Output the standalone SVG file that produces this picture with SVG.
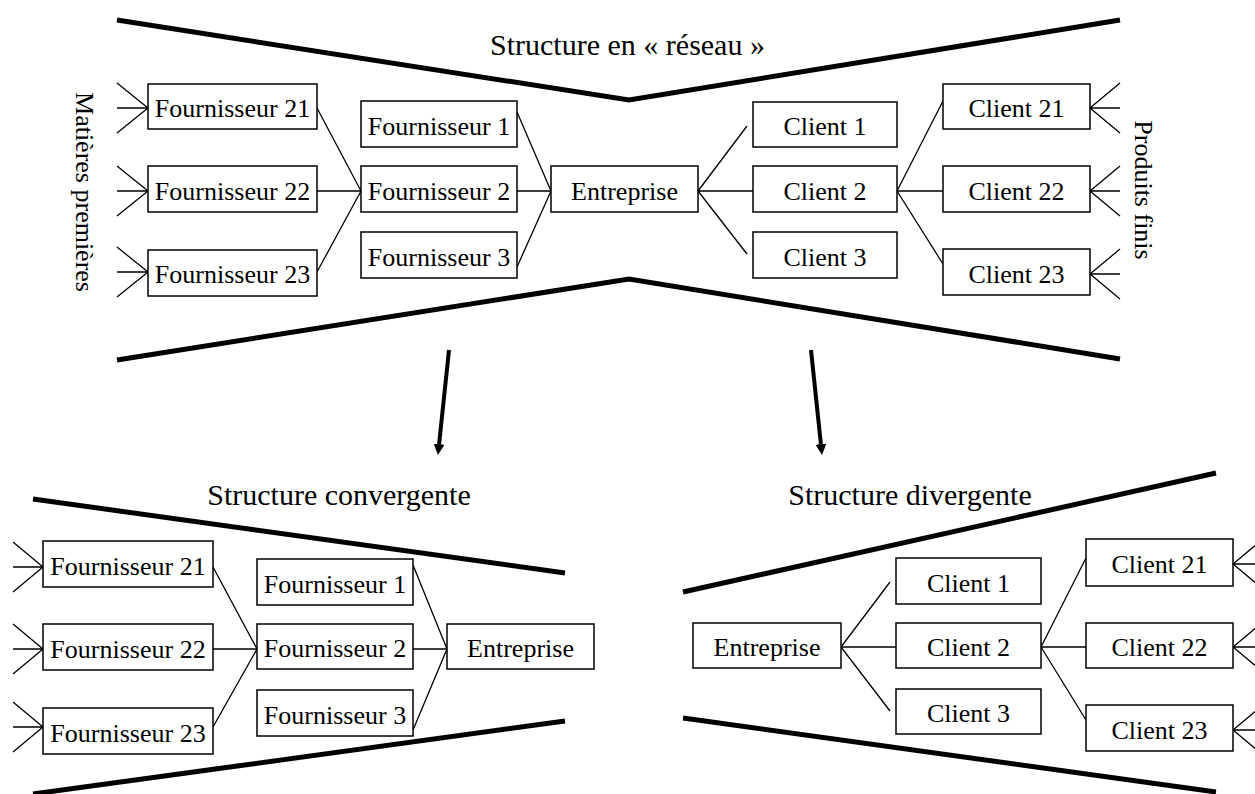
<svg xmlns="http://www.w3.org/2000/svg" width="1255" height="794" viewBox="0 0 1255 794">
<style>
.box{fill:#fff;stroke:#000;stroke-width:1.5}
.t{font-family:"Liberation Serif","Times New Roman",serif;font-size:26px;fill:#000;text-anchor:middle}
.title{font-family:"Liberation Serif","Times New Roman",serif;font-size:30px;fill:#000;text-anchor:middle}
.c{fill:none;stroke:#000;stroke-width:1.3}
.thick{fill:none;stroke:#000;stroke-width:5;stroke-linejoin:miter}
.big{fill:none;stroke:#000;stroke-width:4}
</style>
<defs>
<marker id="ah" viewBox="0 -5.5 11 11" refX="0" refY="0" markerUnits="userSpaceOnUse" markerWidth="11" markerHeight="11" orient="auto">
<path d="M0,-5.5 L11,0 L0,5.5 z" fill="#000"/>
</marker>
</defs>
<rect width="1255" height="794" fill="#fff"/>

<g id="frames">
<polyline class="thick" points="117,20 629,100 1120,20"/>
<polyline class="thick" points="117,360 629,279 1120,359"/>
<line class="thick" x1="33" y1="499" x2="565" y2="573"/>
<line class="thick" x1="33" y1="794" x2="565" y2="721"/>
<line class="thick" x1="683" y1="592" x2="1216" y2="473"/>
<line class="thick" x1="683" y1="718" x2="1216" y2="792"/>
</g>

<g id="labels">
<text class="title" x="627.5" y="55">Structure en « réseau »</text>
<text class="title" x="339" y="505">Structure convergente</text>
<text class="title" x="910" y="505">Structure divergente</text>
<text class="t" transform="translate(76,192) rotate(90)">Matières premières</text>
<text class="t" transform="translate(1135,190) rotate(90)">Produits finis</text>
</g>

<g id="connectors">
<!-- top inputs -->
<path class="c" d="M117,83 L148,108 L117,133 M117,108 H148"/>
<path class="c" d="M117,166 L148,191 L117,216 M117,191 H148"/>
<path class="c" d="M117,247 L148,272 L117,297 M117,272 H148"/>
<path class="c" d="M1120,83 L1090,108 L1120,133 M1120,108 H1090"/>
<path class="c" d="M1120,166 L1090,191 L1120,216 M1120,191 H1090"/>
<path class="c" d="M1120,249 L1090,274 L1120,299 M1120,274 H1090"/>
<!-- top links -->
<path class="c" d="M317,108 L361,191 M317,191 H361 M317,272 L361,191"/>
<path class="c" d="M517,112 L551,191 M517,191 H551 M517,267 L551,191"/>
<path class="c" d="M698,191 L747,126 M698,191 H753 M698,191 L747,254"/>
<path class="c" d="M897,191 L943,101 M897,191 H943 M897,191 L943,264"/>
<!-- middle arrows -->
<line class="big" x1="449" y1="350" x2="439.1" y2="444.1" marker-end="url(#ah)"/>
<line class="big" x1="811" y1="350" x2="820.9" y2="444.1" marker-end="url(#ah)"/>
<!-- bottom-left -->
<path class="c" d="M13,542 L43,567 L13,592 M13,567 H43"/>
<path class="c" d="M13,624 L43,649 L13,674 M13,649 H43"/>
<path class="c" d="M13,702 L43,727 L13,752 M13,727 H43"/>
<path class="c" d="M213,567 L257,649 M213,649 H257 M213,727 L257,649"/>
<path class="c" d="M413,565 L447,649 M413,649 H447 M413,730 L447,649"/>
<!-- bottom-right -->
<path class="c" d="M841,647 L890,582 M841,647 H896 M841,647 L890,711"/>
<path class="c" d="M1041,647 L1086,558 M1041,647 H1086 M1041,647 L1086,720"/>
<path class="c" d="M1263,539 L1233,564 L1263,589 M1263,564 H1233"/>
<path class="c" d="M1263,622 L1233,647 L1263,672 M1263,647 H1233"/>
<path class="c" d="M1263,705 L1233,730 L1263,755 M1263,730 H1233"/>
</g>

<!-- top nodes -->
<g id="n-f21"><rect class="box" x="148" y="84" width="169" height="45"/><text class="t" x="232.5" y="117">Fournisseur 21</text></g>
<g id="n-f22"><rect class="box" x="148" y="166" width="169" height="46"/><text class="t" x="232.5" y="200">Fournisseur 22</text></g>
<g id="n-f23"><rect class="box" x="148" y="250" width="169" height="46"/><text class="t" x="232.5" y="283">Fournisseur 23</text></g>
<g id="n-f1"><rect class="box" x="361" y="101" width="156" height="46"/><text class="t" x="439" y="135">Fournisseur 1</text></g>
<g id="n-f2"><rect class="box" x="361" y="166" width="156" height="46"/><text class="t" x="439" y="200">Fournisseur 2</text></g>
<g id="n-f3"><rect class="box" x="361" y="232" width="156" height="46"/><text class="t" x="439" y="265.5">Fournisseur 3</text></g>
<g id="n-ent"><rect class="box" x="551" y="166" width="147" height="46"/><text class="t" x="624.5" y="200">Entreprise</text></g>
<g id="n-c1"><rect class="box" x="753" y="102" width="144" height="45"/><text class="t" x="825" y="135">Client 1</text></g>
<g id="n-c2"><rect class="box" x="753" y="166" width="144" height="46"/><text class="t" x="825" y="200">Client 2</text></g>
<g id="n-c3"><rect class="box" x="753" y="232" width="144" height="46"/><text class="t" x="825" y="265.5">Client 3</text></g>
<g id="n-c21"><rect class="box" x="943" y="84" width="147" height="45"/><text class="t" x="1016.5" y="117">Client 21</text></g>
<g id="n-c22"><rect class="box" x="943" y="166" width="147" height="46"/><text class="t" x="1016.5" y="200">Client 22</text></g>
<g id="n-c23"><rect class="box" x="943" y="249" width="147" height="46"/><text class="t" x="1016.5" y="282.5">Client 23</text></g>

<!-- bottom-left nodes -->
<g id="bl-f21"><rect class="box" x="43" y="541" width="170" height="46"/><text class="t" x="128" y="574.5">Fournisseur 21</text></g>
<g id="bl-f22"><rect class="box" x="43" y="624" width="170" height="46"/><text class="t" x="128" y="657.5">Fournisseur 22</text></g>
<g id="bl-f23"><rect class="box" x="43" y="708" width="170" height="46"/><text class="t" x="128" y="741.5">Fournisseur 23</text></g>
<g id="bl-f1"><rect class="box" x="257" y="559" width="156" height="46"/><text class="t" x="335" y="592.5">Fournisseur 1</text></g>
<g id="bl-f2"><rect class="box" x="257" y="624" width="156" height="45"/><text class="t" x="335" y="657">Fournisseur 2</text></g>
<g id="bl-f3"><rect class="box" x="257" y="690" width="156" height="46"/><text class="t" x="335" y="723.5">Fournisseur 3</text></g>
<g id="bl-ent"><rect class="box" x="447" y="624" width="147" height="45"/><text class="t" x="520.5" y="657">Entreprise</text></g>

<!-- bottom-right nodes -->
<g id="br-ent"><rect class="box" x="693" y="623" width="148" height="45"/><text class="t" x="767" y="656">Entreprise</text></g>
<g id="br-c1"><rect class="box" x="896" y="558" width="145" height="46"/><text class="t" x="968.5" y="591.5">Client 1</text></g>
<g id="br-c2"><rect class="box" x="896" y="623" width="145" height="45"/><text class="t" x="968.5" y="656">Client 2</text></g>
<g id="br-c3"><rect class="box" x="896" y="689" width="145" height="45"/><text class="t" x="968.5" y="722">Client 3</text></g>
<g id="br-c21"><rect class="box" x="1086" y="539" width="147" height="47"/><text class="t" x="1159.5" y="573">Client 21</text></g>
<g id="br-c22"><rect class="box" x="1086" y="623" width="147" height="45"/><text class="t" x="1159.5" y="656">Client 22</text></g>
<g id="br-c23"><rect class="box" x="1086" y="705" width="147" height="46"/><text class="t" x="1159.5" y="738.5">Client 23</text></g>
</svg>
